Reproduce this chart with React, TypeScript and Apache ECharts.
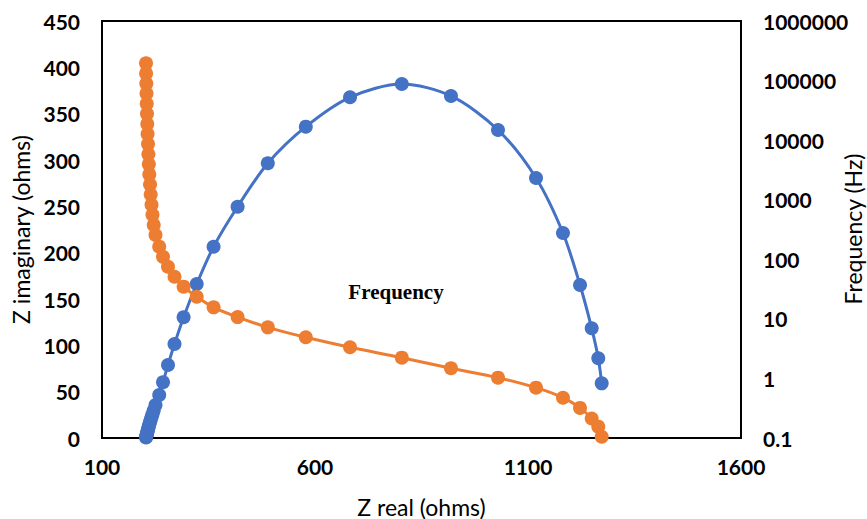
import React, { useEffect, useRef } from "react";
import * as echarts from "echarts";

// Impedance sweep, high frequency -> low frequency
const zReal: number[] = [
  203.3, 203.5, 204.0, 204.5, 205.0, 205.6, 206.3, 207.0, 208.0, 208.9,
  209.9, 211.0, 212.7, 214.3, 216.2, 218.5, 221.4, 225.6, 234.3, 243.2,
  254.9, 270.2, 291.5, 322.3, 361.9, 418.3, 489.2, 578.4, 682.2, 803.8,
  919.2, 1029.6, 1118.8, 1182.1, 1222.1, 1249.5, 1265.0, 1273.0,
];
const zImag: number[] = [
  0.5, 1.1, 1.8, 2.7, 3.7, 4.9, 6.2, 7.6, 9.2, 10.8,
  12.6, 14.7, 16.9, 19.4, 22.3, 25.6, 29.7, 35.6, 46.4, 60.1,
  78.8, 101.4, 130.3, 166.2, 206.4, 249.6, 296.5, 336.0, 367.7, 382.0,
  369.1, 332.4, 280.6, 221.2, 165.1, 118.4, 86.0, 59.0,
];
const frequency: number[] = [
  195000, 132000, 89300, 60400, 40900, 27700, 18700, 12700, 8590, 5810,
  3930, 2660, 1800, 1220, 824, 558, 378, 256, 163, 110,
  75.1, 51.0, 34.7, 23.5, 15.6, 10.7, 7.2, 4.9, 3.33, 2.23,
  1.48, 1.03, 0.70, 0.475, 0.32, 0.213, 0.155, 0.105,
];
const xTicks = { min: 100, max: 1600, interval: 500 };
const yLeftTicks = { min: 0, max: 450, interval: 50 };
const yRightTicks = { min: 0.1, max: 1000000 };
const annotation = "Frequency";
const rightAxisTitle = "Frequency (Hz)";

export default function App() {
  const ref = useRef<HTMLDivElement>(null);
  useEffect(() => {
    if (!ref.current) return;
    const chart = echarts.init(ref.current, null, { renderer: "svg" });
    const blue = "#4472C4";
    const orange = "#ED7D31";
    const tickFont = {
      fontFamily: "Lato",
      fontWeight: "bold" as const,
      fontSize: 21,
      color: "#000",
    };
    const nameFont = { fontFamily: "Lato", fontSize: 23, color: "#000" };
    chart.setOption({
      animation: false,
      backgroundColor: "#fff",
      grid: {
        left: 102,
        right: 126,
        top: 21,
        bottom: 81,
        show: true,
        borderColor: "#000",
        borderWidth: 2,
        backgroundColor: "transparent",
        containLabel: false,
        outerBoundsMode: "none",
      },
      xAxis: {
        type: "value",
        min: xTicks.min,
        max: xTicks.max,
        interval: xTicks.interval,
        name: "Z real (ohms)",
        nameLocation: "middle",
        nameGap: 57,
        nameTextStyle: nameFont,
        axisLine: { show: true, lineStyle: { color: "#000", width: 2 } },
        axisTick: { show: false },
        splitLine: { show: false },
        axisLabel: {
          ...tickFont,
          margin: 18,
          formatter: (v: number) => String(v),
        },
      },
      yAxis: [
        {
          type: "value",
          min: yLeftTicks.min,
          max: yLeftTicks.max,
          interval: yLeftTicks.interval,
          name: "Z imaginary (ohms)",
          nameLocation: "middle",
          nameGap: 66,
          nameTextStyle: nameFont,
          axisLine: { show: true, lineStyle: { color: "#000", width: 2 } },
          axisTick: { show: false },
          splitLine: { show: false },
          axisLabel: { ...tickFont, margin: 22 },
        },
        {
          type: "log",
          logBase: 10,
          min: yRightTicks.min,
          max: yRightTicks.max,
          splitNumber: 7,
          position: "right",
          axisLine: { show: true, lineStyle: { color: "#000", width: 2 } },
          axisTick: { show: false },
          splitLine: { show: false },
          axisLabel: {
            ...tickFont,
            margin: 22,
            formatter: (v: number) =>
              v < 1 ? v.toFixed(1) : String(Math.round(v)),
          },
        },
      ],
      graphic: [
        {
          type: "text",
          x: 396,
          y: 292,
          style: {
            text: annotation,
            fontFamily: "Liberation Serif",
            fontWeight: "bold",
            fontSize: 21,
            fill: "#000",
            textAlign: "center",
            textVerticalAlign: "middle",
          },
        },
        {
          type: "text",
          x: 853,
          y: 229,
          rotation: Math.PI / 2,
          style: {
            text: rightAxisTitle,
            fontFamily: "Lato",
            fontSize: 23,
            fill: "#000",
            textAlign: "center",
            textVerticalAlign: "middle",
          },
        },
      ],
      series: [
        {
          name: "Z imaginary",
          type: "line",
          yAxisIndex: 0,
          smooth: 0.3,
          symbol: "circle",
          symbolSize: 14,
          lineStyle: { color: blue, width: 3 },
          itemStyle: { color: blue },
          data: zReal.map((x, i) => [x, zImag[i]]),
          z: 2,
        },
        {
          name: "Frequency",
          type: "line",
          yAxisIndex: 1,
          smooth: 0.3,
          symbol: "circle",
          symbolSize: 14,
          lineStyle: { color: orange, width: 3 },
          itemStyle: { color: orange },
          data: zReal.map((x, i) => [x, frequency[i]]),
          z: 3,
        },
      ],
    });
    return () => chart.dispose();
  }, []);
  return (
    <div
      ref={ref}
      style={{ position: "fixed", left: 0, top: 0, width: 867, height: 519 }}
    />
  );
}
